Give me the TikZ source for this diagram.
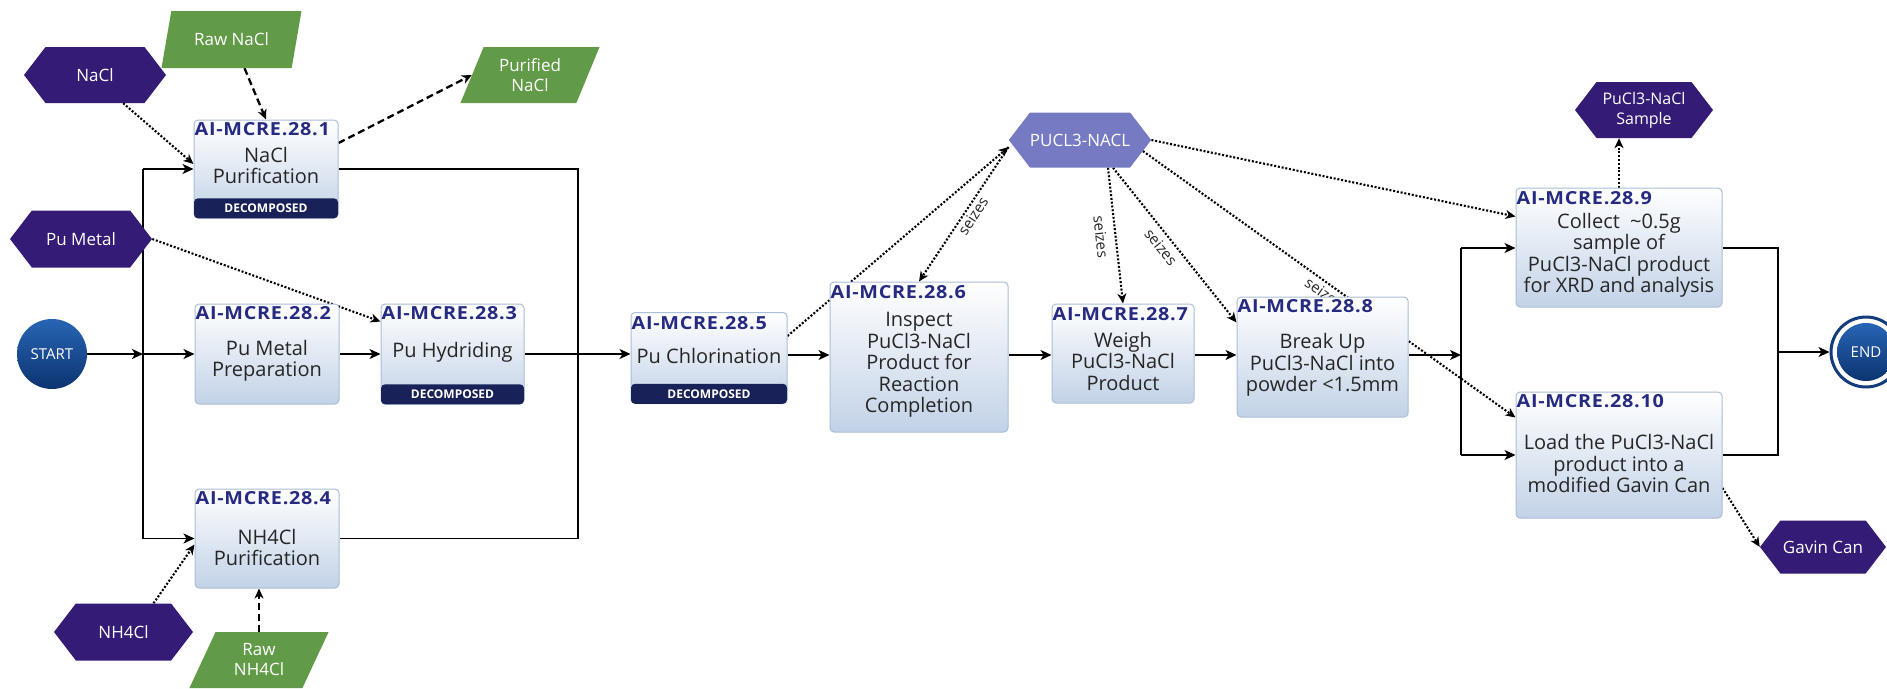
\documentclass[tikz,border=0pt]{standalone}
\usepackage{fontspec}
\setmainfont{Open Sans}
\newfontfamily\titlefont[FakeStretch=1.1,LetterSpace=4]{Open Sans}
\usetikzlibrary{shapes.geometric,shapes.symbols,arrows.meta,backgrounds}
\pgfdeclarelayer{bgfill}
\pgfsetlayers{bgfill,background,main}
\definecolor{hexpurple}{RGB}{52,28,118}
\definecolor{hexlight}{RGB}{118,122,194}
\definecolor{paragreen}{RGB}{98,155,72}
\definecolor{titleblue}{RGB}{38,42,128}
\definecolor{decompblue}{RGB}{24,34,88}
\definecolor{boxblue}{RGB}{194,210,231}
\definecolor{boxedge}{RGB}{170,190,214}
\definecolor{circtop}{RGB}{40,100,180}
\definecolor{circbot}{RGB}{12,52,112}
\definecolor{ringblue}{RGB}{20,60,125}
\tikzset{
  pbox/.style={rectangle, rounded corners=4pt, draw=boxedge, line width=1pt, top color=white, bottom color=boxblue, inner sep=0pt},
  ttl/.style={font=\titlefont\bfseries\fontsize{18}{20}\selectfont, text=titleblue, inner sep=0pt, anchor=base west},
  bodytxt/.style={font=\fontsize{20}{21.5}\selectfont, align=center, inner sep=0pt, text=black!85},
  decomp/.style={fill=decompblue, rounded corners=4pt, text=white, font=\bfseries\fontsize{12}{13}\selectfont, inner sep=0pt, anchor=south, minimum height=20pt},
  hexa/.style={signal, signal to=east and west, signal pointer angle=105, fill=hexpurple, text=white, font=\fontsize{17}{20}\selectfont, align=center, inner sep=0pt},
  para/.style={trapezium, trapezium left angle=65, trapezium right angle=115, trapezium stretches=true, fill=paragreen, text=white, font=\fontsize{17}{20}\selectfont, align=center, inner sep=0pt},
  flow/.style={line width=1.6pt, -{Stealth[length=11pt,width=10pt,inset=3pt]}},
  conn/.style={line width=1.6pt},
  dotarr/.style={line width=2.1pt, dash pattern=on 2pt off 1.8pt, -{Stealth[length=10pt,width=9pt,inset=3pt]}},
  dasharr/.style={line width=2.3pt, dash pattern=on 7pt off 4pt, -{Stealth[length=10pt,width=9pt,inset=3pt]}},
  seiz/.style={font=\fontsize{15}{16}\selectfont, inner sep=0pt, text=black!85},
  startc/.style={circle, top color=circtop, bottom color=circbot, text=white, font=\fontsize{15}{16}\selectfont, inner sep=0pt},
}
\begin{document}
\begin{tikzpicture}[x=1pt,y=-1pt]
\begin{pgfonlayer}{bgfill}
\fill[white] (0,0) rectangle (1887,688);
\end{pgfonlayer}
\useasboundingbox (0,0) rectangle (1887,688);
\clip (0,0) rectangle (1887,688);

% start / end
\node[startc, minimum size=70pt] (start) at (52,354) {START};
\node[circle, draw=ringblue, line width=3pt, fill=white, minimum size=70pt, inner sep=0pt] (endc) at (1866,352) {};
\node[startc, minimum size=58pt] (endi) at (endc) {END};

% process boxes
\node[pbox, minimum width=144pt, minimum height=98pt] (b1) at (266,169) {};
\node[ttl] (t1) at ([xshift=1pt,yshift=-16pt]b1.north west) {AI-MCRE.28.1};
\node[bodytxt] (x1) at (266,165.5) {NaCl\\Purification};
\node[decomp, minimum width=144pt] (d1) at (b1.south) {DECOMPOSED};

\node[pbox, minimum width=144pt, minimum height=100pt] (b2) at (267,354) {};
\node[ttl] (t2) at ([xshift=1pt,yshift=-16pt]b2.north west) {AI-MCRE.28.2};
\node[bodytxt] (x2) at (267,361) {Pu Metal\\Preparation};

\node[pbox, minimum width=143pt, minimum height=100pt] (b3) at (452.5,354) {};
\node[ttl] (t3) at ([xshift=1pt,yshift=-16pt]b3.north west) {AI-MCRE.28.3};
\node[bodytxt] (x3) at (452.5,352) {Pu Hydriding};
\node[decomp, minimum width=143pt] (d3) at (b3.south) {DECOMPOSED};

\node[pbox, minimum width=144pt, minimum height=99pt] (b4) at (267,538.5) {};
\node[ttl] (t4) at ([xshift=1pt,yshift=-16pt]b4.north west) {AI-MCRE.28.4};
\node[bodytxt] (x4) at (267,547.5) {NH4Cl\\Purification};

\node[pbox, minimum width=156pt, minimum height=91pt] (b5) at (709,358) {};
\node[ttl] (t5) at ([xshift=1pt,yshift=-17pt]b5.north west) {AI-MCRE.28.5};
\node[bodytxt] (x5) at (709,356) {Pu Chlorination};
\node[decomp, minimum width=156pt] (d5) at (b5.south) {DECOMPOSED};

\node[pbox, minimum width=178pt, minimum height=150pt] (b6) at (919,357) {};
\node[ttl] (t6) at ([xshift=1pt,yshift=-17pt]b6.north west) {AI-MCRE.28.6};
\node[bodytxt] (x6) at (919,365) {Inspect\\PuCl3-NaCl\\Product for\\Reaction\\Completion};

\node[pbox, minimum width=142pt, minimum height=99pt] (b7) at (1123,353.5) {};
\node[ttl] (t7) at ([xshift=1pt,yshift=-17pt]b7.north west) {AI-MCRE.28.7};
\node[bodytxt] (x7) at (1123,361) {Weigh\\PuCl3-NaCl\\Product};

\node[pbox, minimum width=171pt, minimum height=120pt] (b8) at (1322.5,357) {};
\node[ttl] (t8) at ([xshift=1pt,yshift=-16pt]b8.north west) {AI-MCRE.28.8};
\node[bodytxt] (x8) at (1322.5,365) {Break Up\\PuCl3-NaCl into\\powder <1.5mm};

\node[pbox, minimum width=206pt, minimum height=119pt] (b9) at (1619,247.5) {};
\node[ttl] (t9) at ([xshift=1pt,yshift=-17pt]b9.north west) {AI-MCRE.28.9};
\node[bodytxt] (x9) at (1619,255.5) {Collect~~\textasciitilde0.5g\\sample of\\PuCl3-NaCl product\\for XRD and analysis};

\node[pbox, minimum width=206pt, minimum height=126pt] (b10) at (1619,455) {};
\node[ttl] (t10) at ([xshift=1pt,yshift=-16pt]b10.north west) {AI-MCRE.28.10};
\node[bodytxt] (x10) at (1619,463.5) {Load the PuCl3-NaCl\\product into a\\modified Gavin Can};

% hexagons
\node[hexa, minimum width=142pt, minimum height=56pt] (nacl) at (95,75) {NaCl};
\node[hexa, minimum width=142pt, minimum height=57pt] (pumetal) at (81,239) {Pu Metal};
\node[hexa, minimum width=139pt, minimum height=57pt] (nh4cl) at (123.5,632) {NH4Cl};
\node[hexa, fill=hexlight, minimum width=139pt, minimum height=55pt] (pucl) at (1080,140) {PUCL3-NACL};
\node[hexa, minimum width=138pt, minimum height=56pt, font=\fontsize{16}{20}\selectfont] (sample) at (1644,110) {PuCl3-NaCl\\Sample};
\node[hexa, minimum width=126pt, minimum height=53pt] (gavin) at (1823,547) {Gavin Can};

% parallelograms
\node[para, minimum width=141pt, minimum height=57pt] (rawnacl) at (231.5,39.5) {Raw NaCl};
\node[para, minimum width=140pt, minimum height=56pt] (purnacl) at (530,75) {Purified\\NaCl};
\node[para, minimum width=140pt, minimum height=56pt] (rawnh4) at (259,660) {Raw\\NH4Cl};

% bus coordinates
\coordinate (bl1) at (143,169);
\coordinate (blm) at (143,354);
\coordinate (bl4) at (143,538.5);
\coordinate (br1) at (578,169);
\coordinate (brm) at (578,354);
\coordinate (br4) at (578,538.5);
\coordinate (my) at (0,355);
\coordinate (bm) at (1461,355);
\coordinate (bmt) at (1461,248);
\coordinate (bmb) at (1461,455);
\coordinate (be1) at (1778,248);
\coordinate (be2) at (1778,455);
\coordinate (bem) at (1778,352);

\begin{scope}[on background layer]
% solid flow
\draw[flow] (start.east) -- (blm);
\draw[conn] (bl1) -- (bl4);
\draw[flow] (bl1) -- (b1.west);
\draw[flow] (blm) -- (b2.west);
\draw[flow] (bl4) -- (b4.west);
\draw[flow] (b2.east) -- (b3.west);
\draw[conn] (b1.east) -- (br1) -- (br4) -- (b4.east);
\draw[conn] (b3.east) -- (brm);
\draw[flow] (brm) -- (b5.west |- brm);
\draw[flow] (b5.east |- my) -- (b6.west |- my);
\draw[flow] (b6.east |- my) -- (b7.west |- my);
\draw[flow] (b7.east |- my) -- (b8.west |- my);
\draw[flow] (b8.east |- my) -- (bm);
\draw[conn] (bmt) -- (bmb);
\draw[flow] (bmt) -- (b9.west |- bmt);
\draw[flow] (bmb) -- (b10.west |- bmb);
\draw[conn] (b9.east |- bmt) -- (be1) -- (be2) -- (b10.east |- bmb);
\draw[flow] (bem) -- (endc.west);

% resources
\draw[dotarr] (nacl.-45) -- ([yshift=5pt]b1.west);
\draw[dasharr] ([xshift=13pt]rawnacl.south) -- (b1.north);
\draw[dasharr] ([yshift=26pt]b1.east) -- (purnacl.west);
\draw[dotarr] (pumetal.east) -- ([yshift=-18pt]b3.north west);
\draw[dotarr] ([xshift=30pt]nh4cl.north) -- ([yshift=-6pt]b4.west);
\draw[dasharr] (rawnh4.north) -- (rawnh4.north |- b4.south);
\draw[dotarr] ([yshift=22pt]b5.east) -- ([yshift=-7pt]pucl.west);
\draw[dotarr] ([yshift=-7pt]pucl.west) -- (b6.north);
\draw[dotarr] ([xshift=28pt]pucl.south) -- (b7.north);
\draw[dotarr] ([xshift=33pt]pucl.south) -- ([yshift=-26pt]b8.north west);
\draw[dotarr] (pucl.-10) -- ([yshift=-26pt]b10.north west);
\draw[dotarr] (pucl.east) -- ([yshift=-29pt]b9.north west);
\draw[dotarr] (b9.north) -- (b9.north |- sample.south);
\draw[dotarr] ([yshift=-33pt]b10.east) -- (gavin.west);

\node[seiz, rotate=57] (s1) at (973,216) {seizes};
\node[seiz, rotate=-84] (s2) at (1101,237) {seizes};
\node[seiz, rotate=-51] (s3) at (1161,247) {seizes};
\node[seiz, rotate=-35] (s4) at (1324,293) {seizes};
\end{scope}
\end{tikzpicture}
\end{document}
